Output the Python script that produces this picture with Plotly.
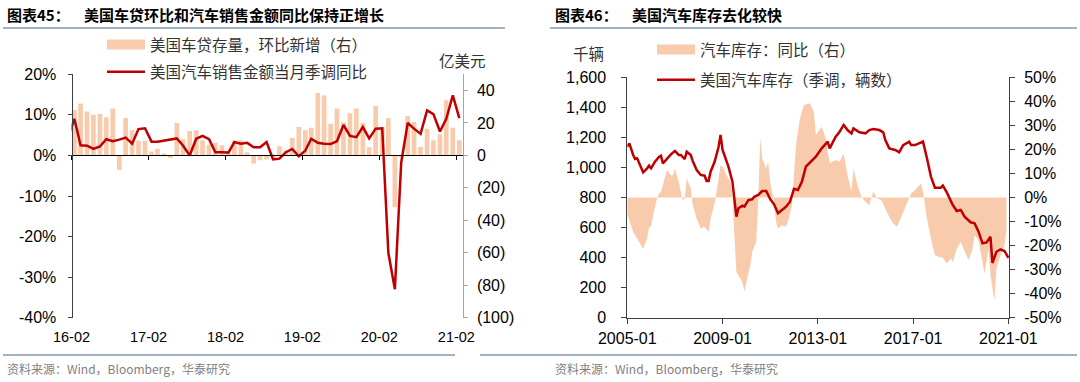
import plotly.graph_objects as go

W, H = 1080, 382

# ---------------- left chart data (图表45) ----------------
loan_months = [
    "2016-02", "2016-03", "2016-04", "2016-05", "2016-06", "2016-07", "2016-08", "2016-09", "2016-10", "2016-11", "2016-12",
    "2017-01", "2017-02", "2017-03", "2017-04", "2017-05", "2017-06", "2017-07", "2017-08", "2017-09", "2017-10", "2017-11", "2017-12",
    "2018-01", "2018-02", "2018-03", "2018-04", "2018-05", "2018-06", "2018-07", "2018-08", "2018-09", "2018-10", "2018-11", "2018-12",
    "2019-01", "2019-02", "2019-03", "2019-04", "2019-05", "2019-06", "2019-07", "2019-08", "2019-09", "2019-10", "2019-11", "2019-12",
    "2020-01", "2020-02", "2020-03", "2020-04", "2020-05", "2020-06", "2020-07", "2020-08", "2020-09", "2020-10", "2020-11", "2020-12",
    "2021-01", "2021-02",
]
# 美国车贷存量，环比新增（亿美元，右轴）
loan_change = [
    28, 32, 27, 25, 25.5, 23.5, 29, -9, 23, 15.5, 9, 9,
    2.5, 4, 1.2, -1.6, 20, 10, 15, 15.5, 9.3, 6.6, 7.8, 6.2,
    1, 8.7, 9.3, 2, -5, -3, -2.5, -2, 5.6, 3, 10.7, 17.5,
    15.5, 17, 38.5, 37, 19.5, 29, 20.5, 26, 29, 20, 5, 30.5,
    17.5, 23, -32, -1, 24.3, 20.6, 5.2, 16.5, 9.3, 13, 34, 17,
    9.3,
]
sales_months = [
    "2016-01", "2016-02", "2016-03", "2016-04", "2016-05", "2016-06", "2016-07", "2016-08", "2016-09", "2016-10", "2016-11", "2016-12",
    "2017-01", "2017-02", "2017-03", "2017-04", "2017-05", "2017-06", "2017-07", "2017-08", "2017-09", "2017-10", "2017-11", "2017-12",
    "2018-01", "2018-02", "2018-03", "2018-04", "2018-05", "2018-06", "2018-07", "2018-08", "2018-09", "2018-10", "2018-11", "2018-12",
    "2019-01", "2019-02", "2019-03", "2019-04", "2019-05", "2019-06", "2019-07", "2019-08", "2019-09", "2019-10", "2019-11", "2019-12",
    "2020-01", "2020-02", "2020-03", "2020-04", "2020-05", "2020-06", "2020-07", "2020-08", "2020-09", "2020-10", "2020-11", "2020-12",
    "2021-01", "2021-02",
]
# 美国汽车销售金额当月季调同比（%，左轴）
sales_yoy = [
    4.4, 9.0, 2.5, 2.4, 1.6, 2.2, 4.0, 3.5, 3.9, 4.4, 2.9, 6.5, 6.7,
    3.4, 3.4, 3.7, 3.9, 4.2, 2.4, 0.0, 4.1, 4.8, 4.0, 0.8, 0.8,
    0.7, 3.3, 2.9, 3.1, 2.0, 2.0, 3.3, -1.0, -0.8, 0.8, 1.6, -0.2,
    1.2, 4.1, 3.1, 2.9, 2.8, 3.5, 7.5, 4.8, 4.5, 7.0, 4.2, 6.6,
    6.7, -24, -33, -1.8, 8.0, 6.6, 5.3, 11.1, 10.2, 5.9, 9.0, 14.8,
    9.2,
]
left_xtick_vals = ["2016-02-01", "2017-02-01", "2018-02-01", "2019-02-01", "2020-02-01", "2021-02-01"]
left_xtick_text = ["16-02", "17-02", "18-02", "19-02", "20-02", "21-02"]
left_pct_ticks = [-40, -30, -20, -10, 0, 10, 20]
left_pct_text = ["-40%", "-30%", "-20%", "-10%", "0%", "10%", "20%"]
left_amt_ticks = [-100, -80, -60, -40, -20, 0, 20, 40]
left_amt_text = ["(100)", "(80)", "(60)", "(40)", "(20)", "0", "20", "40"]

# ---------------- right chart data (图表46) ----------------
inv_months = [
    "2005-01", "2005-02", "2005-04", "2005-05", "2005-06", "2005-08", "2005-09", "2005-11", "2005-12",
    "2006-01", "2006-03", "2006-05", "2006-06", "2006-07", "2006-09", "2006-11",
    "2007-01", "2007-03", "2007-04", "2007-06", "2007-07", "2007-09", "2007-10", "2007-12",
    "2008-02", "2008-04", "2008-05", "2008-06", "2008-07", "2008-09", "2008-11", "2008-12",
    "2009-01", "2009-03", "2009-04", "2009-06", "2009-08", "2009-09", "2009-11", "2009-12",
    "2010-02", "2010-04", "2010-05", "2010-07", "2010-09", "2010-11",
    "2011-01", "2011-03", "2011-05", "2011-07", "2011-09", "2011-11",
    "2012-01", "2012-03", "2012-05", "2012-07", "2012-10", "2012-12",
    "2013-03", "2013-06", "2013-07", "2013-10", "2013-12",
    "2014-02", "2014-04", "2014-06", "2014-07", "2014-10",
    "2015-01", "2015-03", "2015-05", "2015-08", "2015-10", "2015-11",
    "2016-01", "2016-04", "2016-06", "2016-08", "2016-11", "2016-12",
    "2017-02", "2017-05", "2017-06", "2017-08", "2017-10", "2017-12",
    "2018-03", "2018-04", "2018-06", "2018-09", "2018-11",
    "2019-01", "2019-03", "2019-06", "2019-08", "2019-10", "2019-12",
    "2020-02", "2020-04", "2020-05", "2020-07", "2020-09", "2020-11", "2021-01",
]
# 美国汽车库存（季调，千辆，左轴）
inv_level = [
    1138, 1160, 1083, 1056, 1061, 1005, 967, 994, 1012,
    994, 1038, 1070, 1078, 1027, 1061, 1087,
    1110, 1083, 1083, 1056, 1105, 1083, 1043, 983,
    950, 945, 910, 910, 972, 1038, 1138, 1216,
    1116, 1043, 1005, 905, 672, 728, 746, 739,
    783, 788, 805, 817, 843, 843,
    790, 755, 695, 717, 739, 772,
    858, 850, 905, 1005, 1043, 1072,
    1127, 1172, 1127, 1205, 1238,
    1283, 1249, 1227, 1260, 1234,
    1227, 1249, 1256, 1249, 1234, 1183,
    1127, 1116, 1101, 1149, 1172, 1149,
    1149, 1167, 1172, 1061, 939, 865,
    865, 879, 834, 750, 710,
    717, 672, 635, 628, 572, 495,
    501, 539, 364, 439, 455, 444, 399,
]
yoy_months = [
    "2005-01", "2005-02", "2005-04", "2005-05", "2005-07", "2005-09", "2005-11", "2005-12",
    "2006-01", "2006-02", "2006-04", "2006-05", "2006-06", "2006-08", "2006-09", "2006-11", "2006-12",
    "2007-01", "2007-03", "2007-04", "2007-05", "2007-06", "2007-07", "2007-09", "2007-10", "2007-12",
    "2008-02", "2008-04", "2008-06", "2008-07", "2008-09", "2008-11", "2008-12",
    "2009-01", "2009-03", "2009-05", "2009-06", "2009-07", "2009-08", "2009-10", "2009-11", "2009-12",
    "2010-02", "2010-03", "2010-04", "2010-06", "2010-07", "2010-08", "2010-09", "2010-11", "2010-12",
    "2011-01", "2011-03", "2011-04", "2011-05", "2011-07", "2011-09", "2011-10", "2011-12",
    "2012-01", "2012-02", "2012-04", "2012-06", "2012-09", "2012-11", "2012-12",
    "2013-03", "2013-05", "2013-07", "2013-10", "2013-12",
    "2014-02", "2014-04", "2014-06", "2014-07", "2014-09", "2014-11",
    "2015-01", "2015-03", "2015-05", "2015-07", "2015-09", "2015-11",
    "2016-01", "2016-03", "2016-05", "2016-06", "2016-08", "2016-11", "2016-12",
    "2017-02", "2017-05", "2017-06", "2017-08", "2017-10", "2017-12",
    "2018-02", "2018-04", "2018-06", "2018-08", "2018-09", "2018-11",
    "2019-01", "2019-03", "2019-05", "2019-07", "2019-08", "2019-10", "2019-12",
    "2020-01", "2020-03", "2020-04", "2020-06", "2020-07", "2020-09", "2020-11", "2020-12",
]
# 汽车库存：同比（%，右轴）
inv_yoy = [
    -7.4, -9.4, -14.3, -15.7, -18.5, -21.3, -17, -12.2,
    -12.2, -7.4, -0.4, 1.7, 2.4, 7.9, 11.4, 9.3, 9.3,
    12.1, 6.5, 2.4, -1.1, -0.4, 7.9, 3.8, -3.2, -8.8,
    -12.9, -12.2, -14.3, -8.8, -2.5, 7.9, 13.5,
    12.8, 9.3, 6.5, 1.0, -15.7, -31, -33.8, -35.1, -39,
    -32.4, -28.2, -22.6, -18.5, -1.8, 24.6, 16.3, 12.1, 14.9,
    6.5, -1.8, -10.1, -12.9, -11.5, -12.2, -10.1, -3.2,
    9.3, 22, 32.9, 38.5, 39.2, 35.7, 26,
    29.4, 24.6, 14.2, 15.6, 14.9,
    18.3, 9.3, 2.4, 12.1, 5.1, 0.3,
    -1.8, -3.2, 2.4, -0.4, -1.1, -4.6,
    -8.1, -10.8, -12.2, -10.1, -6, -0.4, 1.7,
    3.1, 5.8, 2.4, -8.8, -17.1, -24,
    -24.7, -25.1, -27.5, -25.4, -26.8, -21.3,
    -18.5, -22.6, -26.1, -21.3, -15.7, -17.8, -26.8,
    -31.7, -21.3, -32.4, -42.8, -29.6, -24, -19.9, -13.6,
]
right_xtick_vals = ["2005-01-01", "2009-01-01", "2013-01-01", "2017-01-01", "2021-01-01"]
right_xtick_text = ["2005-01", "2009-01", "2013-01", "2017-01", "2021-01"]
right_lvl_ticks = [0, 200, 400, 600, 800, 1000, 1200, 1400, 1600]
right_lvl_text = ["0", "200", "400", "600", "800", "1,000", "1,200", "1,400", "1,600"]
right_pct_ticks = [-50, -40, -30, -20, -10, 0, 10, 20, 30, 40, 50]
right_pct_text = ["-50%", "-40%", "-30%", "-20%", "-10%", "0%", "10%", "20%", "30%", "40%", "50%"]

# ---------------- styling ----------------
PEACH = "#F8CBAD"
RED = "#C00000"
AX = "#404040"
LAT = "Liberation Sans, Arial, Noto Sans CJK SC, sans-serif"
CJK = "Noto Sans CJK SC, Liberation Sans, sans-serif"


def px(x):
    return x / W


def py(y):
    return 1 - y / H


L_X = [px(71.5), px(462.7)]
L_Y = [py(317.7), py(74.3)]
R_X = [px(627.3), px(1009.0)]
R_Y = [py(317.7), py(77.3)]

fig = go.Figure()

# left chart
fig.add_trace(go.Bar(
    x=[m + "-15" for m in loan_months], y=loan_change, marker=dict(color=PEACH, line=dict(width=0)),
    xaxis="x", yaxis="y", showlegend=False, hoverinfo="x+y",
))
fig.add_trace(go.Scatter(
    x=[None], y=[None], mode="lines", line=dict(color=PEACH, width=10),
    name="美国车贷存量，环比新增（右）", legend="legend", legendgroup="a1", xaxis="x", yaxis="y",
))
fig.add_trace(go.Scatter(
    x=[m + "-15" for m in sales_months], y=sales_yoy, mode="lines",
    line=dict(color=RED, width=2.5), name="美国汽车销售金额当月季调同比",
    legend="legend", legendgroup="a2", xaxis="x", yaxis="y2",
))
fig.add_trace(go.Scatter(
    x=left_xtick_vals, y=[None] * len(left_xtick_vals), mode="lines",
    xaxis="x3", yaxis="y", showlegend=False, hoverinfo="skip",
))

# right chart
fig.add_trace(go.Scatter(
    x=yoy_months, y=inv_yoy, mode="lines", fill="tozeroy", fillcolor=PEACH,
    line=dict(width=0, color=PEACH), xaxis="x2", yaxis="y3", showlegend=False,
))
fig.add_trace(go.Scatter(
    x=[None], y=[None], mode="lines", line=dict(color=PEACH, width=10),
    name="汽车库存：同比（右）", legend="legend2", legendgroup="b1", xaxis="x2", yaxis="y3",
))
fig.add_trace(go.Scatter(
    x=inv_months, y=inv_level, mode="lines", line=dict(color=RED, width=2.5),
    name="美国汽车库存（季调，辆数）", legend="legend2", legendgroup="b2", xaxis="x2", yaxis="y4",
))

tick_font = dict(family=LAT, size=16, color="#000")

fig.update_layout(
    width=W, height=H, autosize=False,
    margin=dict(l=0, r=0, t=0, b=0, pad=0, autoexpand=False),
    paper_bgcolor="white", plot_bgcolor="rgba(0,0,0,0)",
    bargap=0.2,
    showlegend=True,
    # ---- left chart axes ----
    xaxis=dict(
        type="date", domain=L_X, range=["2016-02-01", "2021-03-03"],
        anchor="free", position=py(155), showline=True, linecolor="#000", linewidth=1,
        ticks="outside", ticklen=4, tickcolor="#000", tickvals=left_xtick_vals,
        showticklabels=False, showgrid=False, zeroline=False, fixedrange=True,
    ),
    xaxis3=dict(
        type="date", overlaying="x", range=["2016-02-01", "2021-03-03"],
        anchor="y", side="bottom", showline=False, ticks="",
        tickvals=left_xtick_vals, ticktext=left_xtick_text,
        tickfont=dict(family=LAT, size=14.5, color="#000"), ticklabelstandoff=9,
        showgrid=False, zeroline=False,
    ),
    yaxis=dict(
        domain=L_Y, range=[-100, 50], anchor="free", position=L_X[1], side="right",
        showline=True, linecolor="#A6A6A6", linewidth=1, ticks="outside", ticklen=4,
        tickcolor="#A6A6A6", tickvals=left_amt_ticks, ticktext=left_amt_text,
        tickfont=tick_font, showgrid=False, zeroline=False, ticklabelstandoff=6,
    ),
    yaxis2=dict(
        overlaying="y", range=[-40, 20], anchor="free", position=L_X[0], side="left",
        showline=True, linecolor=AX, linewidth=1, ticks="outside", ticklen=4, tickcolor=AX,
        tickvals=left_pct_ticks, ticktext=left_pct_text, tickfont=tick_font,
        showgrid=False, zeroline=False, ticklabelstandoff=8,
    ),
    # ---- right chart axes ----
    xaxis2=dict(
        type="date", domain=R_X, range=["2005-01-01", "2021-01-10"], anchor="y3",
        showline=True, linecolor=AX, linewidth=1, ticks="outside", ticklen=5, tickcolor=AX,
        tickvals=right_xtick_vals, ticktext=right_xtick_text, tickfont=tick_font,
        showgrid=False, zeroline=False, ticklabelstandoff=1,
    ),
    yaxis3=dict(
        domain=R_Y, range=[-50, 50], anchor="x2", side="right",
        showline=True, linecolor=AX, linewidth=1, ticks="outside", ticklen=5, tickcolor=AX,
        tickvals=right_pct_ticks, ticktext=right_pct_text, tickfont=tick_font,
        showgrid=False, zeroline=False, ticklabelstandoff=6,
    ),
    yaxis4=dict(
        overlaying="y3", range=[0, 1600], anchor="x2", side="left",
        showline=True, linecolor=AX, linewidth=1, ticks="outside", ticklen=5, tickcolor=AX,
        tickvals=right_lvl_ticks, ticktext=right_lvl_text, tickfont=tick_font,
        showgrid=False, zeroline=False, ticklabelstandoff=12,
    ),
    legend=dict(
        x=px(102), y=py(28), xanchor="left", yanchor="top", bgcolor="rgba(0,0,0,0)",
        font=dict(family=CJK, size=15.5, color="#333"), itemwidth=38,
        traceorder="grouped", tracegroupgap=4,
    ),
    legend2=dict(
        x=px(652), y=py(33), xanchor="left", yanchor="top", bgcolor="rgba(0,0,0,0)",
        font=dict(family=CJK, size=15.5, color="#333"), itemwidth=38,
        traceorder="grouped", tracegroupgap=7,
    ),
)

annots = [
    dict(x=px(5), y=py(15), text="<b>图表45：</b>", font=dict(family=CJK, size=15, color="#000")),
    dict(x=px(82), y=py(15), text="<b>美国车贷环比和汽车销售金额同比保持正增长</b>", font=dict(family=CJK, size=15, color="#000")),
    dict(x=px(553), y=py(15), text="<b>图表46：</b>", font=dict(family=CJK, size=15, color="#000")),
    dict(x=px(630), y=py(15), text="<b>美国汽车库存去化较快</b>", font=dict(family=CJK, size=15, color="#000")),
    dict(x=px(437), y=py(60), text="亿美元", font=dict(family=CJK, size=15.5, color="#333")),
    dict(x=px(571), y=py(53), text="千辆", font=dict(family=CJK, size=15.5, color="#333")),
    dict(x=px(5), y=py(368), text="资料来源：Wind，Bloomberg，华泰研究", font=dict(family=CJK, size=12, color="#7F7F7F")),
    dict(x=px(553), y=py(368), text="资料来源：Wind，Bloomberg，华泰研究", font=dict(family=CJK, size=12, color="#7F7F7F")),
]
for a in annots:
    a.update(xref="paper", yref="paper", xanchor="left", yanchor="middle", showarrow=False)
fig.update_layout(annotations=annots)

SEP = "#8497B0"
for x0, x1, y in [(3, 505, 28), (550, 1077, 28), (3, 455, 355), (480, 1077, 355)]:
    fig.add_shape(type="line", xref="paper", yref="paper", x0=px(x0), x1=px(x1), y0=py(y), y1=py(y),
                  line=dict(color=SEP, width=1.5))

fig.write_html(
    "out.html",
    config={"displayModeBar": False},
    post_script="document.body.style.margin='0';document.body.style.padding='0';document.body.style.overflow='hidden';",
)
